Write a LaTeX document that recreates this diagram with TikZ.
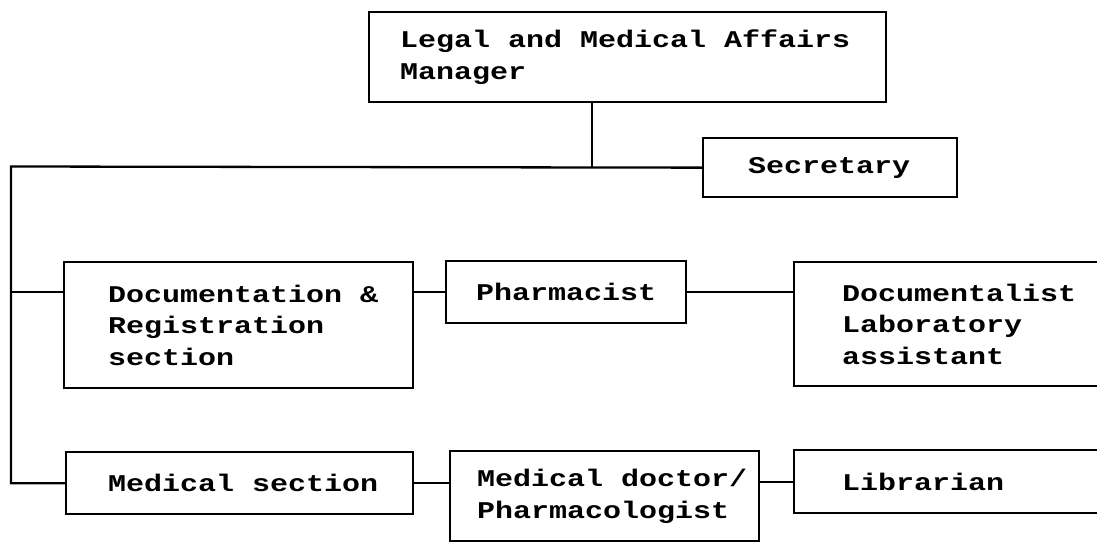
\documentclass[tikz,border=0pt]{standalone}
\usepackage{fontspec}
% wide, low typewriter face
\newfontfamily\courfont[FakeStretch=1.25]{Liberation Mono}
\begin{document}
\begin{tikzpicture}[x=1pt,y=-1pt,
  orgbox/.style={draw, rectangle, line width=2.3pt, inner sep=0pt, anchor=north west},
  boxtext/.style={font=\courfont\bfseries\fontsize{24}{31.5}\selectfont, align=left, inner sep=0pt, anchor=west},
  link/.style={line width=2.3pt}]
\useasboundingbox (0,0) rectangle (1097,543);

% boxes of the organisation chart
\node[orgbox, minimum width=517pt, minimum height=90pt]  (top)   at (368,11)  {};
\node[orgbox, minimum width=254pt, minimum height=59pt]  (sec)   at (702,137) {};
\node[orgbox, minimum width=349pt, minimum height=126pt] (doc)   at (63,261)  {};
\node[orgbox, minimum width=240pt, minimum height=62pt]  (pharm) at (445,260) {};
\node[orgbox, minimum width=322pt, minimum height=124pt] (docu)  at (793,261) {};
\node[orgbox, minimum width=347pt, minimum height=62pt]  (med)   at (65,451)  {};
\node[orgbox, minimum width=309pt, minimum height=90pt]  (md)    at (449,450) {};
\node[orgbox, minimum width=322pt, minimum height=63pt]  (lib)   at (793,449) {};

% texts, left aligned inside each box
\node[boxtext] (topt)   at ([xshift=32pt]top.west)   {Legal and Medical Affairs\\Manager};
\node[boxtext] (sect)   at ([xshift=46pt]sec.west)   {Secretary};
\node[boxtext] (doct)   at ([xshift=45pt]doc.west)   {Documentation \&\\Registration\\section};
\node[boxtext] (pharmt) at ([xshift=31pt]pharm.west) {Pharmacist};
\node[boxtext] (docut)  at ([xshift=49pt]docu.west)  {Documentalist\\Laboratory\\assistant};
\node[boxtext] (medt)   at ([xshift=43pt]med.west)   {Medical section};
\node[boxtext] (mdt)    at ([xshift=28pt]md.west)    {Medical doctor/\\Pharmacologist};
\node[boxtext] (libt)   at ([xshift=49pt]lib.west)   {Librarian};

% connectors
\coordinate (sp) at (11,166.5);
\coordinate (jn) at (592,166.5);
\draw[link] (top.south -| jn) -- (jn);
\draw[link] (sec.west) -- (sp) |- (med.west);
\draw[link] (sp |- pharm.west) -- (doc.west |- pharm.west);
\draw[link] (doc.east |- pharm.west) -- (pharm.west);
\draw[link] (pharm.east) -- (docu.west |- pharm.east);
\draw[link] (med.east) -- (md.west |- med.east);
\draw[link] (md.east |- lib.west) -- (lib.west);
\end{tikzpicture}
\end{document}
